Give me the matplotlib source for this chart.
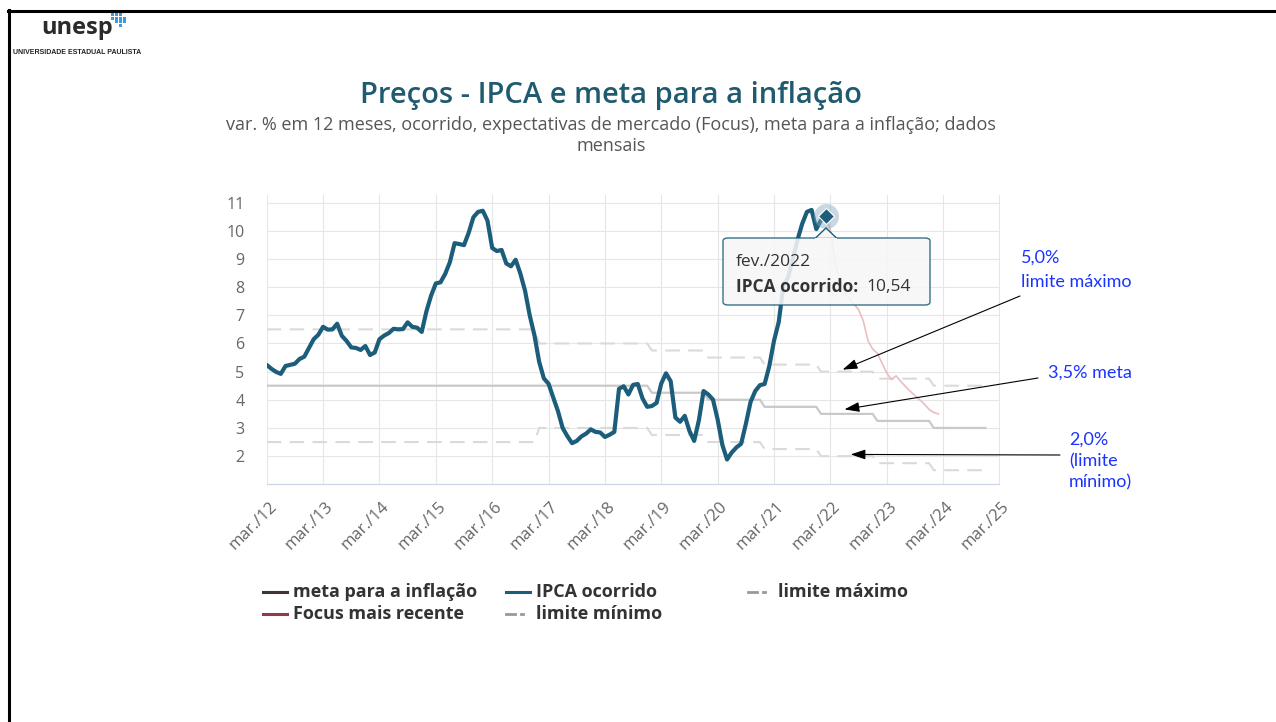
import matplotlib
matplotlib.use("Agg")
import matplotlib.pyplot as plt
import numpy as np
from matplotlib.lines import Line2D
from matplotlib.patches import FancyBboxPatch, Polygon, Rectangle
import matplotlib.transforms as mtrans

W, H, DPI = 1276, 722, 100

# IPCA acumulado em 12 meses, mensal, mar/2012 .. fev/2022
ipca = [5.24, 5.10, 4.99, 4.92, 5.20, 5.24, 5.28, 5.45, 5.53, 5.84,
        6.15, 6.31, 6.59, 6.49, 6.50, 6.70, 6.27, 6.09, 5.86, 5.84, 5.77, 5.91,
        5.59, 5.68, 6.15, 6.28, 6.37, 6.52, 6.50, 6.51, 6.75, 6.59, 6.56, 6.41,
        7.14, 7.70, 8.13, 8.17, 8.47, 8.89, 9.56, 9.53, 9.49, 9.93, 10.48, 10.67,
        10.71, 10.36, 9.39, 9.28, 9.32, 8.84, 8.74, 8.97, 8.48, 7.87, 6.99, 6.29,
        5.35, 4.76, 4.57, 4.08, 3.60, 3.00, 2.71, 2.46, 2.54, 2.70, 2.80, 2.95,
        2.86, 2.84, 2.68, 2.76, 2.86, 4.39, 4.48, 4.19, 4.53, 4.56, 4.05, 3.75,
        3.78, 3.89, 4.58, 4.94, 4.66, 3.37, 3.22, 3.43, 2.89, 2.54, 3.27, 4.31,
        4.19, 4.01, 3.30, 2.40, 1.88, 2.13, 2.31, 2.44, 3.14, 3.92, 4.31, 4.52,
        4.56, 5.20, 6.10, 6.76, 8.06, 8.35, 8.99, 9.68, 10.25, 10.67, 10.74, 10.06,
        10.38, 10.54]

# Focus mais recente, fev/2022 .. fev/2024
focus = [10.54, 10.0, 8.9, 8.2, 7.8, 7.6, 7.4, 7.2, 6.8, 6.1, 5.8, 5.65,
         5.3, 4.95, 4.72, 4.85, 4.65, 4.47, 4.3, 4.15, 4.0, 3.85, 3.66, 3.55, 3.5]
focus_start = 119  # fev/2022

# meta e intervalo de tolerancia por ano
anos = [2012, 2013, 2014, 2015, 2016, 2017, 2018, 2019, 2020, 2021, 2022, 2023, 2024]
meta_ano = [4.5, 4.5, 4.5, 4.5, 4.5, 4.5, 4.5, 4.25, 4.0, 3.75, 3.5, 3.25, 3.0]
tol_ano = [2.0, 2.0, 2.0, 2.0, 2.0, 1.5, 1.5, 1.5, 1.5, 1.5, 1.5, 1.5, 1.5]

x_labels = ['mar./12', 'mar./13', 'mar./14', 'mar./15', 'mar./16', 'mar./17', 'mar./18',
            'mar./19', 'mar./20', 'mar./21', 'mar./22', 'mar./23', 'mar./24', 'mar./25']

# months since mar/2012
x_ipca = np.arange(len(ipca))
x_focus = focus_start + np.arange(len(focus))
x_meta = np.arange(0, 154)
ano_idx = [anos.index(2012 + (m + 2) // 12) for m in x_meta]
meta = np.array([meta_ano[i] for i in ano_idx])
tol = np.array([tol_ano[i] for i in ano_idx])

TEAL = '#1b5d7a'
GRID = '#e6e6e6'

fig = plt.figure(figsize=(W / DPI, H / DPI), dpi=DPI)
fig.patch.set_facecolor('white')

def fx(x):
    return x / W

def fy(y):
    return 1 - y / H

ax = fig.add_axes([fx(266.7), fy(484.3), (999.5 - 266.7) / W, (484.3 - 195) / H])
ax.set_xlim(0, 156)
ax.set_ylim(1.0, 11.27)
ax.set_xticks(np.arange(0, 157, 12))
ax.set_yticks(range(2, 12))
ax.grid(True, color=GRID, lw=0.8)
ax.set_axisbelow(True)
for s in ['top', 'right', 'left']:
    ax.spines[s].set_visible(False)
ax.spines['bottom'].set_color('#ccd6eb')
ax.spines['bottom'].set_linewidth(0.9)
ax.tick_params(length=0)
ax.tick_params(axis='y', pad=16, labelsize=11.5, labelcolor='#666666')
ax.set_yticklabels([str(v) for v in range(2, 12)], family='Open Sans')
ax.set_xticklabels(x_labels, rotation=45, ha='right', rotation_mode='anchor',
                   family='Open Sans', fontsize=12, color='#666666')
ax.tick_params(axis='x', pad=10)
off = mtrans.ScaledTranslation(2 / DPI, 0, fig.dpi_scale_trans)
for lab in ax.get_xticklabels():
    lab.set_transform(lab.get_transform() + off)

# series (faded, highcharts hover state)
ax.plot(x_meta, meta + tol, color='#dadada', lw=1.5, ls=(0, (7, 4)))
ax.plot(x_meta, meta - tol, color='#dadada', lw=1.5, ls=(0, (7, 4)))
ax.plot(x_meta, meta, color='#c9c9c9', lw=1.6)
ax.plot(x_focus, focus, color='#ecbcbf', lw=1.2)
ax.plot(x_ipca, ipca, color=TEAL, lw=3.0, solid_joinstyle='round', solid_capstyle='round')

# hover marker
ax.plot([x_ipca[-1]], [ipca[-1]], 'o', ms=18, color='#86abc1', alpha=0.45, mec='none', zorder=5)
ax.plot([x_ipca[-1]], [ipca[-1]], 'D', ms=8, color=TEAL, mec='white', mew=0.8, zorder=6)

# tooltip
tip = FancyBboxPatch((fx(723), fy(305)), (930 - 723) / W, (305 - 238) / H,
                     boxstyle='round,pad=0,rounding_size=0.004', transform=fig.transFigure,
                     facecolor='#f7f7f7', edgecolor=TEAL, lw=1.0, alpha=0.88, zorder=10)
fig.add_artist(tip)
ptr = Polygon([(fx(815), fy(238.5)), (fx(826), fy(228)), (fx(837), fy(238.5))], closed=True,
              transform=fig.transFigure, facecolor='#f7f7f7', edgecolor=TEAL, lw=1.0, zorder=10)
fig.add_artist(ptr)
fig.add_artist(Line2D([fx(816), fx(836)], [fy(238.5), fy(238.5)], transform=fig.transFigure,
                      color='#f7f7f7', lw=1.5, zorder=11))
fig.text(fx(736), fy(262), 'fev./2022', fontsize=12.5, color='#333333', family='Open Sans',
         va='center', ha='left', zorder=12)
fig.text(fx(736), fy(287), 'IPCA ocorrido:', fontsize=12.5, color='#333333', family='Open Sans',
         weight='bold', va='center', ha='left', zorder=12)
fig.text(fx(866), fy(287), '10,54', fontsize=12.5, color='#333333', family='Open Sans',
         va='center', ha='left', zorder=12)

# title
fig.text(fx(611), fy(96), 'Preços - IPCA e meta para a inflação', fontsize=21, color='#1f5a6e',
         family='Open Sans', weight='semibold', ha='center', va='center')
fig.text(fx(611), fy(125), 'var. % em 12 meses, ocorrido, expectativas de mercado (Focus), meta para a inflação; dados',
         fontsize=13, color='#555555', family='Open Sans', ha='center', va='center')
fig.text(fx(611), fy(146), 'mensais', fontsize=13, color='#555555', family='Open Sans',
         ha='center', va='center')

# legend
def leg_item(x, y, text, color, dashed=False):
    if dashed:
        fig.add_artist(Line2D([fx(x), fx(x + 9)], [fy(y), fy(y)], transform=fig.transFigure,
                              color='#999999', lw=2))
        fig.add_artist(Line2D([fx(x + 15), fx(x + 17)], [fy(y), fy(y)], transform=fig.transFigure,
                              color='#999999', lw=2))
    else:
        fig.add_artist(Line2D([fx(x), fx(x + 24)], [fy(y), fy(y)], transform=fig.transFigure,
                              color=color, lw=2.2))
    fig.text(fx(x + 30), fy(y), text, fontsize=13, weight='bold', color='#333333',
             family='Open Sans', va='center', ha='left')

leg_item(263, 592, 'meta para a inflação', '#3f3537')
leg_item(506, 592, 'IPCA ocorrido', TEAL)
leg_item(748, 592, 'limite máximo', None, dashed=True)
leg_item(263, 614, 'Focus mais recente', '#8f3a4a')
leg_item(506, 614, 'limite mínimo', None, dashed=True)

# annotations
BLUE = '#1a33ff'
ann_font = ['Lato', 'DejaVu Sans']
fig.text(fx(1021), fy(258), '5,0%', fontsize=13, color=BLUE, family=ann_font, va='center')
fig.text(fx(1021), fy(282), 'limite máximo', fontsize=13, color=BLUE, family=ann_font, va='center')
fig.text(fx(1048), fy(373), '3,5% meta', fontsize=13, color=BLUE, family=ann_font, va='center')
fig.text(fx(1069), fy(440), '2,0%', fontsize=13, color=BLUE, family=ann_font, va='center')
fig.text(fx(1069), fy(461), '(limite', fontsize=13, color=BLUE, family=ann_font, va='center')
fig.text(fx(1069), fy(482), 'mínimo)', fontsize=13, color=BLUE, family=ann_font, va='center')

arrow = dict(arrowstyle='-|>,head_length=0.9,head_width=0.3', color='black', lw=0.8,
             shrinkA=0, shrinkB=0)
ax.annotate('', xy=(122.6, 5.07), xytext=(fx(1020), fy(296)), textcoords='figure fraction',
            arrowprops=arrow, annotation_clip=False)
ax.annotate('', xy=(123.0, 3.66), xytext=(fx(1038), fy(378)), textcoords='figure fraction',
            arrowprops=arrow, annotation_clip=False)
ax.annotate('', xy=(124.3, 2.06), xytext=(fx(1060), fy(455)), textcoords='figure fraction',
            arrowprops=arrow, annotation_clip=False)

# slide frame
fig.add_artist(Line2D([fx(8), 1], [fy(11), fy(11)], transform=fig.transFigure, color='black', lw=2.2))
fig.add_artist(Line2D([fx(9), fx(9)], [fy(10), 0], transform=fig.transFigure, color='black', lw=2.2))

# logo
fig.text(fx(41), fy(28), 'unesp', fontsize=17, weight='bold', color='#2b2b2b',
         family='Open Sans', va='center', ha='left')
for (i, j) in [(0, 0), (1, 0), (2, 0), (0, 1), (1, 1), (2, 1), (3, 1), (1, 2), (2, 2), (3, 2), (2, 3)]:
    fig.add_artist(Rectangle((fx(111 + i * 4), fy(16 + j * 3.5)), 3.2 / W, 3 / H,
                             transform=fig.transFigure, color='#3b9be0', lw=0))
fig.text(fx(13), fy(52), 'UNIVERSIDADE ESTADUAL PAULISTA', fontsize=5, weight='bold',
         color='#222222', family='Liberation Sans', va='center', ha='left')

fig.savefig('out.png', dpi=DPI)
